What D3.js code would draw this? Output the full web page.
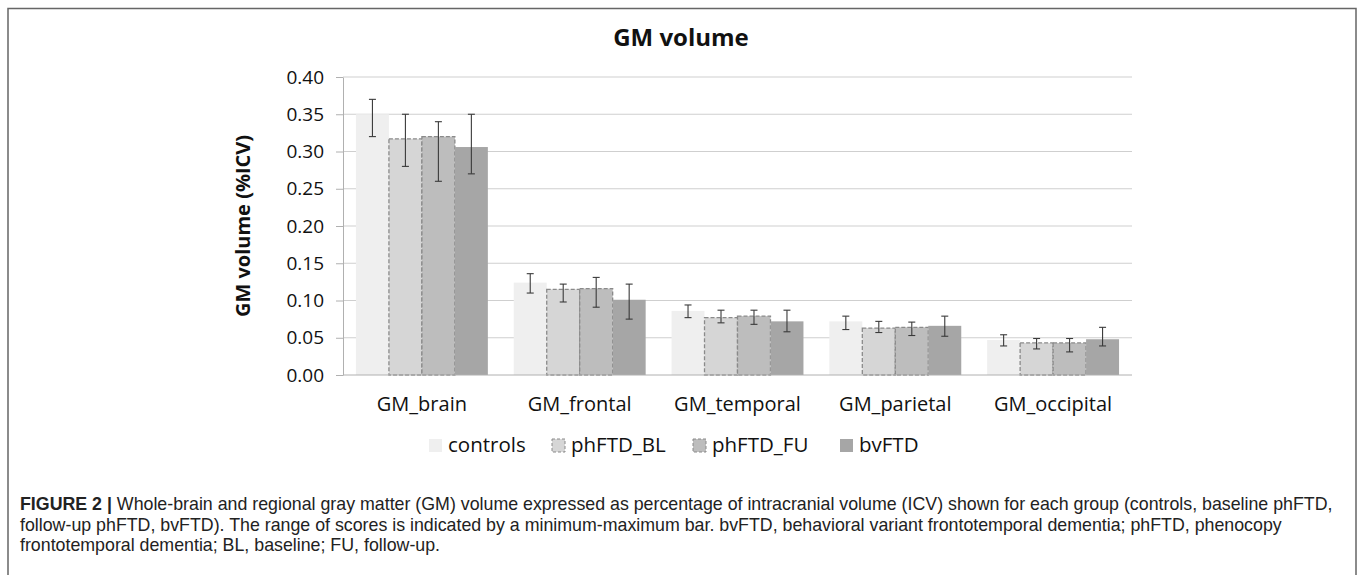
<!DOCTYPE html>
<html>
<head>
<meta charset="utf-8">
<script src="https://cdn.jsdelivr.net/npm/d3@7"></script>
<style>
  body { margin: 0; background: #fff; }
  svg { display: block; }
</style>
</head>
<body>
<svg width="1358" height="575"></svg>
<script>
// data
var categories = ["GM_brain", "GM_frontal", "GM_temporal", "GM_parietal", "GM_occipital"];
var groups = ["controls", "phFTD_BL", "phFTD_FU", "bvFTD"];

var controls    = [0.350, 0.124, 0.086, 0.072, 0.047];
var controlsMin = [0.320, 0.110, 0.077, 0.061, 0.039];
var controlsMax = [0.370, 0.136, 0.094, 0.079, 0.054];

var phBL    = [0.317, 0.115, 0.077, 0.063, 0.043];
var phBLMin = [0.280, 0.098, 0.070, 0.057, 0.035];
var phBLMax = [0.350, 0.122, 0.087, 0.072, 0.049];

var phFU    = [0.320, 0.116, 0.079, 0.064, 0.043];
var phFUMin = [0.260, 0.091, 0.068, 0.053, 0.031];
var phFUMax = [0.340, 0.131, 0.087, 0.071, 0.049];

var bv    = [0.306, 0.101, 0.072, 0.066, 0.048];
var bvMin = [0.270, 0.075, 0.058, 0.052, 0.039];
var bvMax = [0.350, 0.122, 0.087, 0.079, 0.064];

var yTicks = [0, 0.05, 0.10, 0.15, 0.20, 0.25, 0.30, 0.35, 0.40];

var captionLines = [
  ["FIGURE 2 |", " Whole-brain and regional gray matter (GM) volume expressed as percentage of intracranial volume (ICV) shown for each group (controls, baseline phFTD,"],
  ["", "follow-up phFTD, bvFTD). The range of scores is indicated by a minimum-maximum bar. bvFTD, behavioral variant frontotemporal dementia; phFTD, phenocopy"],
  ["", "frontotemporal dementia; BL, baseline; FU, follow-up."]
];

function draw() {
  var series = [
    {name: "controls", vals: controls, lo: controlsMin, hi: controlsMax, fill: "#efefef", dashed: false},
    {name: "phFTD_BL", vals: phBL, lo: phBLMin, hi: phBLMax, fill: "#d6d6d6", dashed: true},
    {name: "phFTD_FU", vals: phFU, lo: phFUMin, hi: phFUMax, fill: "#bdbdbd", dashed: true},
    {name: "bvFTD", vals: bv, lo: bvMin, hi: bvMax, fill: "#a6a6a6", dashed: false}
  ];

  var svg = d3.select("svg");
  var chartFont = "'Open Sans', Calibri, sans-serif";

  // outer frame
  svg.append("path")
    .attr("d", "M8,580 V8.5 H1356 V580")
    .attr("fill", "none")
    .attr("stroke", "#666")
    .attr("stroke-width", 1.5);

  var left = 343, right = 1132, plotTop = 77, bottom = 375;

  var x0 = d3.scaleBand().domain(categories).range([left, right]);
  var pad = x0.step() * 0.082;
  var x1 = d3.scaleBand().domain(groups).range([pad, x0.step() - pad]);
  var y = d3.scaleLinear().domain([0, 0.40]).range([bottom, plotTop]);

  // gridlines
  svg.append("g").selectAll("line")
    .data(yTicks.slice(1))
    .enter().append("line")
      .attr("x1", left).attr("x2", right)
      .attr("y1", function(d) { return y(d); })
      .attr("y2", function(d) { return y(d); })
      .attr("stroke", "#cfcfcf");

  // y axis
  var yAxis = d3.axisLeft(y).tickValues(yTicks).tickFormat(d3.format(".2f"))
    .tickSize(7).tickPadding(12).tickSizeOuter(0);
  var ga = svg.append("g").attr("transform", "translate(" + left + ",0)").call(yAxis);
  ga.select(".domain").attr("stroke", "#b0b0b0");
  ga.selectAll(".tick line").attr("stroke", "#b0b0b0");
  ga.selectAll(".tick text")
    .attr("font-family", chartFont).attr("font-size", 19).attr("fill", "#111");

  // bars
  var gGroups = svg.append("g").selectAll("g")
    .data(categories)
    .enter().append("g")
      .attr("transform", function(d) { return "translate(" + x0(d) + ",0)"; });

  series.forEach(function(s) {
    gGroups.append("rect")
      .attr("x", x1(s.name))
      .attr("width", x1.bandwidth())
      .attr("y", function(d, i) { return y(s.vals[i]); })
      .attr("height", function(d, i) { return y(0) - y(s.vals[i]); })
      .attr("fill", s.fill)
      .attr("stroke", s.dashed ? "#8a8a8a" : "none")
      .attr("stroke-width", 1.3)
      .attr("stroke-dasharray", s.dashed ? "4,2" : null);
  });

  // x axis line
  svg.append("line")
    .attr("x1", left).attr("x2", right)
    .attr("y1", bottom).attr("y2", bottom)
    .attr("stroke", "#b0b0b0");

  // error bars (min-max)
  series.forEach(function(s) {
    var cx = x1(s.name) + x1.bandwidth() / 2;
    var eb = gGroups.append("g").attr("stroke", "#3a3a3a").attr("stroke-width", 1.1);
    eb.append("line")
      .attr("x1", cx).attr("x2", cx)
      .attr("y1", function(d, i) { return y(s.lo[i]); })
      .attr("y2", function(d, i) { return y(s.hi[i]); });
    [s.lo, s.hi].forEach(function(arr) {
      eb.append("line")
        .attr("x1", cx - 3.5).attr("x2", cx + 3.5)
        .attr("y1", function(d, i) { return y(arr[i]); })
        .attr("y2", function(d, i) { return y(arr[i]); });
    });
  });

  // category labels
  svg.append("g").selectAll("text")
    .data(categories)
    .enter().append("text")
      .attr("x", function(d) { return x0(d) + x0.bandwidth() / 2; })
      .attr("y", 411)
      .attr("text-anchor", "middle")
      .attr("font-family", chartFont).attr("font-size", 20).attr("fill", "#111")
      .text(function(d) { return d; });

  // title
  svg.append("text")
    .attr("x", 681).attr("y", 46)
    .attr("text-anchor", "middle")
    .attr("font-family", chartFont).attr("font-size", 24).attr("font-weight", "bold")
    .attr("fill", "#111")
    .text("GM volume");

  // y label
  svg.append("text")
    .attr("transform", "translate(250," + ((plotTop + bottom) / 2) + ") rotate(-90)")
    .attr("text-anchor", "middle")
    .attr("font-family", chartFont).attr("font-size", 20).attr("font-weight", "bold")
    .attr("fill", "#111")
    .text("GM volume (%ICV)");

  // legend
  var legendX = [429, 552, 693, 840];
  var legend = svg.append("g");
  series.forEach(function(s, i) {
    legend.append("rect")
      .attr("x", legendX[i]).attr("y", 439)
      .attr("width", 13).attr("height", 13)
      .attr("fill", s.fill)
      .attr("stroke", s.dashed ? "#8a8a8a" : "none")
      .attr("stroke-dasharray", s.dashed ? "3,2" : null);
    legend.append("text")
      .attr("x", legendX[i] + 19).attr("y", 452)
      .attr("font-family", chartFont).attr("font-size", 20.5).attr("fill", "#111")
      .text(s.name);
  });

  // caption
  var cap = svg.append("g")
    .attr("font-family", "'Liberation Sans', Arial, sans-serif")
    .attr("font-size", 17.8).attr("fill", "#222");
  captionLines.forEach(function(l, i) {
    var t = cap.append("text").attr("x", 20).attr("y", 510 + i * 20.5);
    if (l[0]) t.append("tspan").attr("font-weight", "bold").text(l[0]);
    t.append("tspan").text(l[1]);
  });
}

draw();
</script>
</body>
</html>
